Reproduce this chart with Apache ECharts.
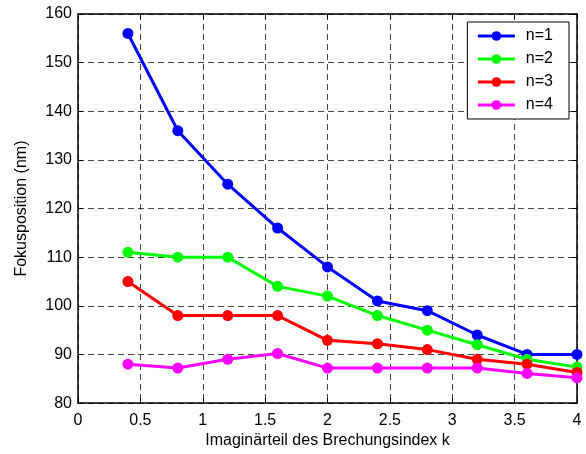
<!DOCTYPE html>
<html>
<head>
<meta charset="utf-8">
<script src="https://cdn.jsdelivr.net/npm/echarts@6/dist/echarts.min.js"></script>
<style>
	html, body { margin: 0; padding: 0; background: #fff; }
	#main { width: 586px; height: 454px; }
</style>
</head>
<body>
<div id="main"></div>
<script>
var kValues = [0.4, 0.8, 1.2, 1.6, 2.0, 2.4, 2.8, 3.2, 3.6, 4.0];
var n1 = [156, 136, 125, 116, 108, 101, 99, 94, 90, 90];
var n2 = [111, 110, 110, 104, 102, 98, 95, 92, 89, 87.4];
var n3 = [105, 98, 98, 98, 92.9, 92.2, 91, 89, 88, 86.3];
var n4 = [88, 87.2, 89, 90.2, 87.2, 87.2, 87.2, 87.2, 86.1, 85.2];
var seriesNames = ['n=1', 'n=2', 'n=3', 'n=4'];
var seriesColors = ['#0000ff', '#00ff00', '#ff0000', '#ff00ff'];

function pairs(ys) {
	var out = [];
	for (let i in kValues) {
		out.push([kValues[i], ys[i]]);
	}
	return out;
}

var chartDom = document.getElementById('main');
var myChart = echarts.init(chartDom);
var option;

var font = 'Liberation Sans, Arial, sans-serif';
var gridLine = { show: true, lineStyle: { color: '#444', type: [6, 4], width: 1 } };
var axisLine = { show: true, onZero: false, lineStyle: { color: '#000', width: 1.5 } };
var tick = { show: true, inside: true, length: 5, lineStyle: { color: '#000' } };

var lines = [n1, n2, n3, n4].map(function (ys, i) {
	return {
		name: seriesNames[i],
		type: 'line',
		data: pairs(ys),
		symbol: 'circle',
		symbolSize: 11,
		color: seriesColors[i],
		lineStyle: { width: 3 },
		xAxisIndex: 0,
		yAxisIndex: 0,
		animation: false,
		z: 3 + i
	};
});

option = {
	backgroundColor: '#fff',
	animation: false,
	grid: {
		left: 78,
		right: 9,
		top: 14,
		bottom: 48
	},
	legend: {
		orient: 'vertical',
		right: 17,
		top: 22,
		itemWidth: 37,
		itemHeight: 12,
		itemGap: 7,
		padding: [6, 16, 6, 9],
		backgroundColor: '#fff',
		borderColor: '#000',
		borderWidth: 1,
		lineStyle: { width: 3 },
		textStyle: { fontFamily: font, fontSize: 16, color: '#000', padding: [0, 0, 0, 6] },
		data: seriesNames
	},
	xAxis: [
		{
			type: 'value',
			min: 0,
			max: 4,
			interval: 0.5,
			name: 'Imaginärteil des Brechungsindex k',
			nameLocation: 'middle',
			nameGap: 28,
			nameTextStyle: { fontFamily: font, fontSize: 16, color: '#000' },
			axisLine: axisLine,
			axisTick: tick,
			axisLabel: { fontFamily: font, fontSize: 16, color: '#000', margin: 9 },
			splitLine: gridLine
		},
		{
			type: 'value',
			position: 'top',
			min: 0,
			max: 4,
			interval: 0.5,
			axisLine: axisLine,
			axisTick: tick,
			axisLabel: { show: false },
			splitLine: { show: false }
		}
	],
	yAxis: [
		{
			type: 'value',
			min: 80,
			max: 160,
			interval: 10,
			name: 'Fokusposition (nm)',
			nameLocation: 'middle',
			nameGap: 48,
			nameTextStyle: { fontFamily: font, fontSize: 16, color: '#000' },
			axisLine: axisLine,
			axisTick: tick,
			axisLabel: { fontFamily: font, fontSize: 16, color: '#000', margin: 6 },
			splitLine: gridLine
		},
		{
			type: 'value',
			position: 'right',
			min: 80,
			max: 160,
			interval: 10,
			axisLine: axisLine,
			axisTick: tick,
			axisLabel: { show: false },
			splitLine: { show: false }
		}
	],
	series: lines
};

option && myChart.setOption(option);
</script>
</body>
</html>
